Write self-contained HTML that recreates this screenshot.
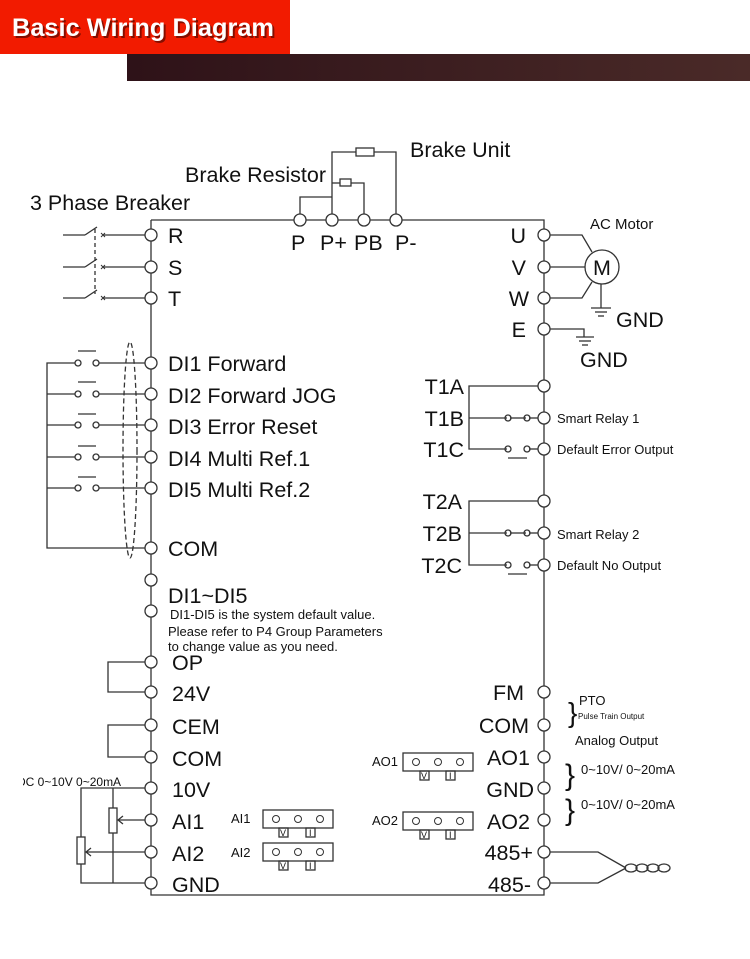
<!DOCTYPE html>
<html><head><meta charset="utf-8"><style>
html,body{margin:0;padding:0;background:#fff;width:750px;height:959px;overflow:hidden}
svg{display:block}
text{font-family:"Liberation Sans",sans-serif;fill:#111}
</style></head><body>
<svg width="750" height="959" viewBox="0 0 750 959" xmlns="http://www.w3.org/2000/svg">
<defs>
<linearGradient id="g" x1="0" x2="1"><stop offset="0" stop-color="#2e1218"/><stop offset="1" stop-color="#4a2a28"/></linearGradient>
</defs>
<rect x="0" y="0" width="290" height="54" fill="#f21b00"/>
<text x="12" y="36" font-size="25" font-weight="bold" style="fill:#000;opacity:.45" transform="translate(2,2)" textLength="262" lengthAdjust="spacingAndGlyphs">Basic Wiring Diagram</text>
<text x="12" y="36" font-size="25" font-weight="bold" style="fill:#fff" textLength="262" lengthAdjust="spacingAndGlyphs">Basic Wiring Diagram</text>
<rect x="127" y="54" width="623" height="27" fill="url(#g)"/>

<g stroke="#333" stroke-width="1.3" fill="none">
<polyline points="151,220 544,220 544,895 151,895 151,220"/>
<polyline points="300,214 300,197 332,197"/>
<polyline points="332,214 332,152 356,152"/><rect x="356" y="148" width="18" height="8"/><polyline points="374,152 396,152 396,214"/>
<polyline points="332,183 340,183"/><rect x="340" y="179" width="11" height="7"/><polyline points="351,183 364,183 364,214"/>
<g>
<line x1="63" y1="235" x2="85" y2="235"/><line x1="85" y1="235" x2="97" y2="227"/><line x1="103" y1="235" x2="145" y2="235"/>
<line x1="63" y1="267" x2="85" y2="267"/><line x1="85" y1="267" x2="97" y2="259"/><line x1="103" y1="267" x2="145" y2="267"/>
<line x1="63" y1="298" x2="85" y2="298"/><line x1="85" y1="298" x2="97" y2="290"/><line x1="103" y1="298" x2="145" y2="298"/>
<line x1="95" y1="229" x2="95" y2="294" stroke-dasharray="4,3"/>
<path d="M101,233 l4,4 M105,233 l-4,4 M101,265 l4,4 M105,265 l-4,4 M101,296 l4,4 M105,296 l-4,4" stroke-width="1"/>
</g>
<polyline points="145,548 47,548 47,363 75,363"/>
<g>
<line x1="47" y1="394" x2="75" y2="394"/><line x1="47" y1="425" x2="75" y2="425"/><line x1="47" y1="457" x2="75" y2="457"/><line x1="47" y1="488" x2="75" y2="488"/>
<line x1="99" y1="363" x2="145" y2="363"/><line x1="99" y1="394" x2="145" y2="394"/><line x1="99" y1="425" x2="145" y2="425"/><line x1="99" y1="457" x2="145" y2="457"/><line x1="99" y1="488" x2="145" y2="488"/>
<line x1="78" y1="351" x2="96" y2="351"/><line x1="78" y1="382" x2="96" y2="382"/><line x1="78" y1="414" x2="96" y2="414"/><line x1="78" y1="446" x2="96" y2="446"/><line x1="78" y1="477" x2="96" y2="477"/>
<circle cx="78" cy="363" r="3"/><circle cx="96" cy="363" r="3"/>
<circle cx="78" cy="394" r="3"/><circle cx="96" cy="394" r="3"/>
<circle cx="78" cy="425" r="3"/><circle cx="96" cy="425" r="3"/>
<circle cx="78" cy="457" r="3"/><circle cx="96" cy="457" r="3"/>
<circle cx="78" cy="488" r="3"/><circle cx="96" cy="488" r="3"/>
<ellipse cx="130" cy="450" rx="7" ry="108" stroke-dasharray="5,3"/>
</g>
<polyline points="145,662 108,662 108,692 145,692"/>
<polyline points="145,725 108,725 108,757 145,757"/>
<polyline points="145,788 81,788 81,837"/><rect x="77" y="837" width="8" height="27"/><polyline points="81,864 81,883 145,883"/>
<polyline points="113,788 113,808"/><rect x="109" y="808" width="8" height="25"/><polyline points="113,833 113,883"/>
<line x1="118" y1="820" x2="145" y2="820"/><polyline points="123,816 118,820 123,824"/>
<line x1="86" y1="852" x2="145" y2="852"/><polyline points="91,848 86,852 91,856"/>
<rect x="263" y="810" width="70" height="18"/><rect x="279" y="828" width="9" height="9"/><rect x="306" y="828" width="9" height="9"/>
<rect x="263" y="843" width="70" height="18"/><rect x="279" y="861" width="9" height="9"/><rect x="306" y="861" width="9" height="9"/>
<rect x="403" y="753" width="70" height="18"/><rect x="420" y="771" width="9" height="9"/><rect x="446" y="771" width="9" height="9"/>
<rect x="403" y="812" width="70" height="18"/><rect x="420" y="830" width="9" height="9"/><rect x="446" y="830" width="9" height="9"/>
<g stroke-width="1">
<circle cx="276" cy="819" r="3.5"/><circle cx="298" cy="819" r="3.5"/><circle cx="320" cy="819" r="3.5"/>
<circle cx="276" cy="852" r="3.5"/><circle cx="298" cy="852" r="3.5"/><circle cx="320" cy="852" r="3.5"/>
<circle cx="416" cy="762" r="3.5"/><circle cx="438" cy="762" r="3.5"/><circle cx="460" cy="762" r="3.5"/>
<circle cx="416" cy="821" r="3.5"/><circle cx="438" cy="821" r="3.5"/><circle cx="460" cy="821" r="3.5"/>
</g>
<polyline points="550,235 582,235 592,252"/><line x1="550" y1="267" x2="585" y2="267"/><polyline points="550,298 582,298 592,282"/>
<circle cx="602" cy="267" r="17"/>
<line x1="601" y1="284" x2="601" y2="308"/><line x1="591" y1="308" x2="611" y2="308"/><line x1="595" y1="312" x2="607" y2="312"/><line x1="598" y1="316" x2="604" y2="316"/>
<polyline points="550,329 584,329 584,337"/><line x1="576" y1="337" x2="594" y2="337"/><line x1="579" y1="341" x2="591" y2="341"/><line x1="582" y1="345" x2="588" y2="345"/>
<polyline points="538,386 469,386 469,449 507,449"/><line x1="469" y1="418" x2="507" y2="418"/>
<line x1="510" y1="418" x2="526" y2="418"/>
<line x1="529" y1="418" x2="538" y2="418"/><line x1="529" y1="449" x2="538" y2="449"/><line x1="508" y1="458" x2="527" y2="458"/>
<circle cx="508" cy="418" r="3"/><circle cx="527" cy="418" r="3"/><circle cx="508" cy="449" r="3"/><circle cx="527" cy="449" r="3"/>
<polyline points="538,501 469,501 469,565 507,565"/><line x1="469" y1="533" x2="507" y2="533"/>
<line x1="510" y1="533" x2="526" y2="533"/>
<line x1="529" y1="533" x2="538" y2="533"/><line x1="529" y1="565" x2="538" y2="565"/><line x1="508" y1="574" x2="527" y2="574"/>
<circle cx="508" cy="533" r="3"/><circle cx="527" cy="533" r="3"/><circle cx="508" cy="565" r="3"/><circle cx="527" cy="565" r="3"/>
<polyline points="550,852 598,852 626,868"/><polyline points="550,883 598,883 626,868"/>
<ellipse cx="631" cy="868" rx="6" ry="4"/><ellipse cx="642" cy="868" rx="6" ry="4"/><ellipse cx="653" cy="868" rx="6" ry="4"/><ellipse cx="664" cy="868" rx="6" ry="4"/>
</g>
<g stroke="#333" stroke-width="1.3" fill="#fff">
<circle cx="300" cy="220" r="6"/><circle cx="332" cy="220" r="6"/><circle cx="364" cy="220" r="6"/><circle cx="396" cy="220" r="6"/>
<circle cx="151" cy="235" r="6"/><circle cx="151" cy="267" r="6"/><circle cx="151" cy="298" r="6"/>
<circle cx="151" cy="363" r="6"/><circle cx="151" cy="394" r="6"/><circle cx="151" cy="425" r="6"/><circle cx="151" cy="457" r="6"/><circle cx="151" cy="488" r="6"/>
<circle cx="151" cy="548" r="6"/><circle cx="151" cy="580" r="6"/><circle cx="151" cy="611" r="6"/>
<circle cx="151" cy="662" r="6"/><circle cx="151" cy="692" r="6"/><circle cx="151" cy="725" r="6"/><circle cx="151" cy="757" r="6"/>
<circle cx="151" cy="788" r="6"/><circle cx="151" cy="820" r="6"/><circle cx="151" cy="852" r="6"/><circle cx="151" cy="883" r="6"/>
<circle cx="544" cy="235" r="6"/><circle cx="544" cy="267" r="6"/><circle cx="544" cy="298" r="6"/><circle cx="544" cy="329" r="6"/>
<circle cx="544" cy="386" r="6"/><circle cx="544" cy="418" r="6"/><circle cx="544" cy="449" r="6"/>
<circle cx="544" cy="501" r="6"/><circle cx="544" cy="533" r="6"/><circle cx="544" cy="565" r="6"/>
<circle cx="544" cy="692" r="6"/><circle cx="544" cy="725" r="6"/><circle cx="544" cy="757" r="6"/><circle cx="544" cy="788" r="6"/><circle cx="544" cy="820" r="6"/><circle cx="544" cy="852" r="6"/><circle cx="544" cy="883" r="6"/>
</g>
<g font-size="21.5">
<text x="30" y="210">3 Phase Breaker</text>
<text x="185" y="182">Brake Resistor</text>
<text x="410" y="157">Brake Unit</text>
<text x="291" y="250">P</text><text x="320" y="250">P+</text><text x="354" y="250">PB</text><text x="395" y="250">P-</text>
<text x="168" y="243">R</text><text x="168" y="275">S</text><text x="168" y="306">T</text>
<text x="168" y="371">DI1 Forward</text><text x="168" y="403">DI2 Forward JOG</text><text x="168" y="434">DI3 Error Reset</text>
<text x="168" y="466">DI4 Multi Ref.1</text><text x="168" y="497">DI5 Multi Ref.2</text>
<text x="168" y="556">COM</text><text x="168" y="603">DI1~DI5</text>
<text x="172" y="670">OP</text><text x="172" y="701">24V</text><text x="172" y="734">CEM</text><text x="172" y="766">COM</text>
<text x="172" y="797">10V</text><text x="172" y="829">AI1</text><text x="172" y="861">AI2</text><text x="172" y="892">GND</text>
<g text-anchor="end">
<text x="526" y="243">U</text><text x="526" y="275">V</text><text x="529" y="306">W</text><text x="526" y="337">E</text>
<text x="464" y="394">T1A</text><text x="464" y="426">T1B</text><text x="464" y="457">T1C</text>
<text x="462" y="509">T2A</text><text x="462" y="541">T2B</text><text x="462" y="573">T2C</text>
<text x="524" y="700">FM</text><text x="529" y="733">COM</text><text x="530" y="765">AO1</text><text x="534" y="797">GND</text><text x="530" y="829">AO2</text>
<text x="533" y="860">485+</text><text x="531" y="892">485-</text>
</g>
<text x="616" y="327">GND</text><text x="580" y="367">GND</text>
<text x="593" y="275">M</text>
</g>
<g font-size="13">
<text x="170" y="619">DI1-DI5 is the system default value.</text>
<text x="168" y="636">Please refer to P4 Group Parameters</text>
<text x="168" y="651">to change value as you need.</text>
<text x="590" y="229" font-size="15">AC Motor</text>
<text x="557" y="423">Smart Relay 1</text><text x="557" y="454">Default Error Output</text>
<text x="557" y="539">Smart Relay 2</text><text x="557" y="570">Default No Output</text>
<text x="579" y="705">PTO</text><text x="578" y="719" font-size="8">Pulse Train Output</text>
<text x="575" y="745">Analog Output</text>
<text x="581" y="774">0~10V/ 0~20mA</text><text x="581" y="809">0~10V/ 0~20mA</text>
<text x="17" y="786" font-size="12">DC 0~10V 0~20mA</text>
<text x="231" y="823">AI1</text><text x="231" y="857">AI2</text>
<text x="372" y="766">AO1</text><text x="372" y="825">AO2</text>
<text x="568" y="722" font-size="28">}</text>
<text x="565" y="785" font-size="30">}</text><text x="565" y="820" font-size="30">}</text>
</g>
<g font-size="9">
<text x="280" y="836">V</text><text x="309" y="836">I</text>
<text x="280" y="869">V</text><text x="309" y="869">I</text>
<text x="421" y="779">V</text><text x="449" y="779">I</text>
<text x="421" y="838">V</text><text x="449" y="838">I</text>
</g>
<rect x="0" y="774" width="23" height="16" fill="#fff"/>
</svg>
</body></html>
